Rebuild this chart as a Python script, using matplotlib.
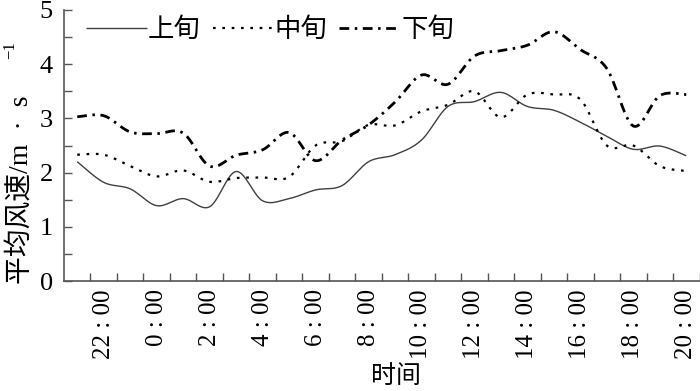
import numpy as np
import matplotlib
matplotlib.use("Agg")
import matplotlib.pyplot as plt
from matplotlib.ticker import FixedLocator, MultipleLocator, NullFormatter

# ---------------- data ----------------
hours = ["21:00", "22:00", "23:00", "0:00", "1:00", "2:00", "3:00", "4:00",
         "5:00", "6:00", "7:00", "8:00", "9:00", "10:00", "11:00", "12:00",
         "13:00", "14:00", "15:00", "16:00", "17:00", "18:00", "19:00", "20:00"]
tick_labels = ["22 : 00", "0 : 00", "2 : 00", "4 : 00", "6 : 00", "8 : 00",
               "10 : 00", "12 : 00", "14 : 00", "16 : 00", "18 : 00", "20 : 00"]
series_names = ["上旬", "中旬", "下旬"]
shangxun = [2.20, 1.82, 1.70, 1.39, 1.52, 1.37, 2.02, 1.48, 1.52, 1.68, 1.76, 2.20,
            2.33, 2.60, 3.22, 3.31, 3.48, 3.22, 3.15, 2.93, 2.67, 2.43, 2.49, 2.31]
zhongxun = [2.33, 2.33, 2.12, 1.93, 2.04, 1.83, 1.90, 1.91, 1.92, 2.50, 2.58, 2.88,
            2.87, 3.13, 3.25, 3.50, 3.02, 3.44, 3.44, 3.35, 2.50, 2.50, 2.12, 2.03]
xiaxun = [3.03, 3.05, 2.75, 2.72, 2.73, 2.12, 2.32, 2.42, 2.74, 2.22, 2.60, 2.88,
          3.30, 3.80, 3.63, 4.15, 4.25, 4.35, 4.60, 4.27, 3.92, 2.86, 3.42, 3.44]


def smooth(x, y, n=24):
    """Excel-like smoothed line (Bezier through the points)."""
    P = np.column_stack([np.asarray(x, float), np.asarray(y, float)])
    pts = []
    m = len(P)
    for i in range(m - 1):
        p0 = P[i - 1] if i > 0 else P[i]
        p1 = P[i]
        p2 = P[i + 1]
        p3 = P[i + 2] if i + 2 < m else P[i + 1]
        c1 = p1 + (p2 - p0) / 6.0
        c2 = p2 - (p3 - p1) / 6.0
        t = np.linspace(0, 1, n, endpoint=(i == m - 2))[:, None]
        b = ((1 - t) ** 3) * p1 + 3 * ((1 - t) ** 2) * t * c1 + 3 * (1 - t) * t ** 2 * c2 + t ** 3 * p2
        pts.append(b)
    pts = np.vstack(pts)
    return pts[:, 0], pts[:, 1]


serif = ["Liberation Serif", "Noto Sans CJK SC"]
cjk = ["Noto Sans CJK SC", "Liberation Serif"]

fig = plt.figure(figsize=(7.0, 3.91), dpi=100)
W, H = 700.0, 391.0
ax = fig.add_axes([64 / W, 1 - 281 / H, 635.5 / W, 271 / H])

xpos = np.arange(len(hours))
axis_col = "#555555"

xs, ys = smooth(xpos, shangxun)
ax.plot(xs, ys, color="#404040", lw=1.0, label=series_names[0], solid_capstyle="butt")
xs, ys = smooth(xpos, zhongxun)
ax.plot(xs, ys, color="black", lw=1.6, linestyle=(0, (1.2, 3.0)), label=series_names[1])
xs, ys = smooth(xpos, xiaxun)
ax.plot(xs, ys, color="black", lw=2.0, linestyle=(0, (3.5, 2.0, 0.9, 2.0)), label=series_names[2])

ax.set_xlim(-0.5, len(hours) - 0.5)
ax.set_ylim(0, 5)

for s in ["top", "right"]:
    ax.spines[s].set_visible(False)
for s in ["left", "bottom"]:
    ax.spines[s].set_color(axis_col)
    ax.spines[s].set_linewidth(1.2)

# y ticks
ax.yaxis.set_minor_locator(MultipleLocator(0.5))
ax.tick_params(axis="y", which="both", direction="in", length=6, width=1.0,
               color=axis_col, pad=8)
ax.set_yticks(range(6))
ax.set_yticklabels([str(i) for i in range(6)], fontfamily=serif, fontsize=19)

# x ticks: marks at category boundaries, labels at category centres
ax.xaxis.set_major_locator(FixedLocator(np.arange(0.5, len(hours), 1.0)))
ax.xaxis.set_major_formatter(NullFormatter())
ax.tick_params(axis="x", which="major", direction="in", length=6, width=1.0, color=axis_col)
ax.set_xticks(np.arange(1, len(hours), 2), minor=True)
ax.set_xticklabels(tick_labels, minor=True, rotation=90, fontfamily=serif,
                   fontsize=18, va="top", ha="center")
ax.tick_params(axis="x", which="minor", length=0, pad=6)

# axis labels
fig.text(396 / W, 1 - 376 / H, "时间", fontfamily=cjk, fontsize=18,
         ha="center", va="center")
fig.text(22 / W, 1 - 190 / H, "平均风速/m  ·  s", fontfamily=serif, fontsize=20,
         rotation=90, ha="center", va="center")
fig.text(10 / W, 1 - 50 / H, "−1", fontfamily=serif, fontsize=12,
         rotation=90, ha="center", va="center")

leg = ax.legend(loc="upper left", bbox_to_anchor=(86 / W, 1 - 16 / H),
                bbox_transform=fig.transFigure, ncol=3, frameon=False,
                prop={"family": cjk, "size": 19}, handlelength=2.3,
                handletextpad=0.05, columnspacing=0.45, borderpad=0,
                borderaxespad=0)

fig.savefig("out.png", dpi=100)
